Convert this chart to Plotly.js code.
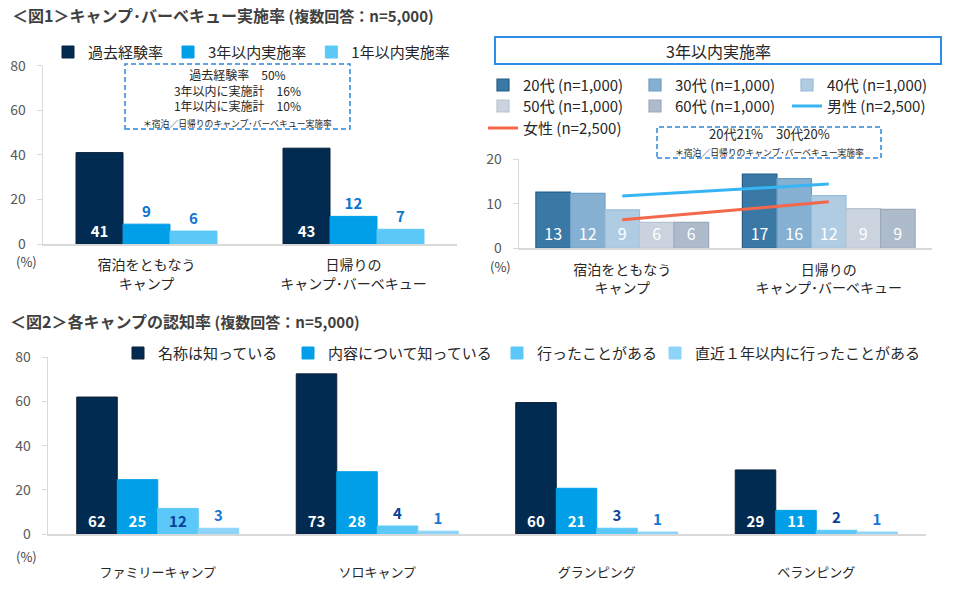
<!DOCTYPE html>
<html><head><meta charset="utf-8">
<script src="https://cdn.plot.ly/plotly-3.0.1.min.js"></script>
<style>body{margin:0;background:#fff}#chart{width:960px;height:589px}</style>
</head><body><div id="chart"></div>
<script>
// ---------- data ----------
const cats1 = ['宿泊をともなう<br>キャンプ', '日帰りの<br>キャンプ･バーベキュー'];
const names1 = ['過去経験率', '3年以内実施率', '1年以内実施率'];
const pastExp = [41, 43];
const within3y = [8.9, 12.4];
const within1y = [5.8, 6.6];

const names2 = ['20代 (n=1,000)', '30代 (n=1,000)', '40代 (n=1,000)', '50代 (n=1,000)', '60代 (n=1,000)', '男性 (n=2,500)', '女性 (n=2,500)'];
const age20 = [12.6, 16.6];
const age30 = [12.3, 15.6];
const age40 = [8.6, 11.8];
const age50 = [5.8, 8.9];
const age60 = [5.8, 8.7];
const male = [11.7, 14.4];
const female = [6.4, 10.4];

const cats3 = ['ファミリーキャンプ', 'ソロキャンプ', 'グランピング', 'ベランピング'];
const names3 = ['名称は知っている', '内容について知っている', '行ったことがある', '直近１年以内に行ったことがある'];
const knowName = [62, 72.5, 59.5, 29];
const knowContent = [24.6, 28.2, 20.7, 10.7];
const visited = [11.6, 3.6, 2.6, 1.7];
const visited1y = [2.6, 1.3, 0.9, 0.9];

// ---------- helpers ----------
const W = 960, H = 589;
const px = v => v / W;
const py = v => 1 - v / H;
const FONT = '"Noto Sans CJK JP", "Noto Sans", sans-serif';
const lbl = '%{y:.0f}';

const traces = [];
// chart 1
const w1 = 0.227;
const c1 = ['#022B52', '#009FE8', '#5BC8F8'];
[pastExp, within3y, within1y].forEach((vals, i) => {
  traces.push({
    type: 'bar', x: cats1, y: vals, name: names1[i], xaxis: 'x', yaxis: 'y', legend: 'legend',
    width: w1, offset: (-1.5 + i) * w1,
    marker: {color: c1[i], line: {color: i === 0 ? '#0B1E36' : c1[i], width: 1}},
    texttemplate: lbl, textposition: i === 0 ? 'inside' : 'outside', insidetextanchor: 'start',
    textangle: 0, constraintext: 'none', cliponaxis: false,
    textfont: {family: FONT, size: 15, color: i === 0 ? '#FFFFFF' : '#0B75CF', weight: 'bold'},
    hoverinfo: 'skip'
  });
});
// chart 2
const w2 = 0.1673;
const fill2 = ['#3A79A5', '#85B0D1', '#AFCCE3', '#CAD3DE', '#AEBBCA'];
const edge2 = ['#245D8A', '#6C9FC5', '#98BCDA', '#B8C4D2', '#9AA9BB'];
const leg2 = ['legend2', 'legend2', 'legend2', 'legend3', 'legend3'];
[age20, age30, age40, age50, age60].forEach((vals, i) => {
  traces.push({
    type: 'bar', x: cats1, y: vals, name: names2[i], xaxis: 'x2', yaxis: 'y2', legend: leg2[i],
    width: w2, offset: (-2.5 + i) * w2,
    marker: {color: fill2[i], line: {color: edge2[i], width: 1.2}},
    texttemplate: lbl, textposition: 'inside', insidetextanchor: 'start',
    textangle: 0, constraintext: 'none', cliponaxis: false,
    textfont: {family: FONT, size: 16, color: '#FFFFFF'},
    hoverinfo: 'skip'
  });
});
traces.push({type: 'scatter', mode: 'lines', x: cats1, y: male, name: names2[5], xaxis: 'x2', yaxis: 'y2',
  legend: 'legend3', line: {color: '#36B4F4', width: 3}, hoverinfo: 'skip'});
traces.push({type: 'scatter', mode: 'lines', x: cats1, y: female, name: names2[6], xaxis: 'x2', yaxis: 'y2',
  legend: 'legend4', line: {color: '#F4674A', width: 3}, hoverinfo: 'skip'});
// chart 3
const w3 = 0.1845;
const c3 = ['#022B52', '#009FE8', '#5BC8F8', '#8DD5F8'];
const pos3 = [
  ['inside', 'inside', 'inside', 'inside'],
  ['inside', 'inside', 'inside', 'inside'],
  ['inside', 'outside', 'outside', 'outside'],
  ['outside', 'outside', 'outside', 'outside']
];
const tcol3 = ['#FFFFFF', '#FFFFFF', '#0C3F98', '#1578D6'];
const lw3 = [125, 164, 113, undefined];
[knowName, knowContent, visited, visited1y].forEach((vals, i) => {
  const t = {
    type: 'bar', x: cats3, y: vals, name: names3[i], xaxis: 'x3', yaxis: 'y3', legend: 'legend5',
    width: w3, offset: (-2 + i) * w3,
    marker: {color: c3[i], line: {color: i === 0 ? '#0B1E36' : c3[i], width: 1}},
    texttemplate: lbl, textposition: pos3[i], insidetextanchor: 'start',
    textangle: 0, constraintext: 'none', cliponaxis: false,
    textfont: {family: FONT, size: 15, color: tcol3[i], weight: 'bold'},
    hoverinfo: 'skip'
  };
  if (lw3[i]) t.legendwidth = lw3[i];
  traces.push(t);
});

// ---------- layout ----------
const yax = (dom, rng, dt) => ({
  domain: [py(dom[1]), py(dom[0])], range: rng, dtick: dt, tick0: 0,
  showline: true, linecolor: '#D9D9D9', linewidth: 1.5, ticks: 'outside', ticklen: 5, tickcolor: '#D9D9D9',
  showgrid: false, zeroline: false, ticklabelstandoff: 8,
  tickfont: {family: FONT, size: 14, color: '#595959'}, fixedrange: true
});
const xax = (dom, rng, anchor, standoff, fs) => ({
  domain: [px(dom[0]), px(dom[1])], range: rng, type: 'category', anchor: anchor,
  showline: true, linecolor: '#D9D9D9', linewidth: 1.5, ticks: '', showgrid: false,
  ticklabelstandoff: standoff, tickfont: {family: FONT, size: fs, color: '#262626'}, fixedrange: true
});
const legBase = (x, top, extra) => Object.assign({
  orientation: 'h', x: px(x), xanchor: 'left', y: py(top), yanchor: 'top',
  font: {family: FONT, size: 15, color: '#262626'}, bgcolor: 'rgba(0,0,0,0)', traceorder: 'normal'
}, extra || {});

const ann = (text, x, y, size, opts) => Object.assign({
  text: text, x: px(x), y: py(y), xref: 'paper', yref: 'paper', showarrow: false,
  xanchor: 'center', yanchor: 'middle', font: {family: FONT, size: size, color: '#262626'}
}, opts || {});

const note = '<span style="font-size:8.8px">＊宿泊／日帰りのキャンプ･バーベキュー実施率</span>';

const layout = {
  width: W, height: H, margin: {l: 0, r: 0, t: 0, b: 0},
  paper_bgcolor: '#FFFFFF', plot_bgcolor: 'rgba(0,0,0,0)',
  font: {family: FONT, color: '#262626'},
  barmode: 'overlay', showlegend: true, hovermode: false,
  title: {
    text: '<b>＜図1＞キャンプ･バーベキュー実施率 <span style="font-size:15px">(複数回答：n=5,000)</span></b>',
    x: px(12), xanchor: 'left', y: py(16), yanchor: 'middle',
    font: {family: FONT, size: 16, color: '#404040'}
  },
  xaxis: xax([43, 457], [-0.5, 1.5], 'y', 8, 14),
  yaxis: yax([65.7, 244], [0, 80], 20),
  xaxis2: xax([519, 932], [-0.5, 1.5], 'y2', 8, 14),
  yaxis2: Object.assign(yax([159, 248.3], [0, 20], 10), {anchor: 'x2'}),
  xaxis3: xax([48, 926], [-0.5, 3.5], 'y3', 26, 13),
  yaxis3: Object.assign(yax([357.3, 534], [0, 80], 20), {anchor: 'x3'}),
  legend: legBase(48, 52 - 16.25),
  legend2: legBase(483, 85 - 16.25, {entrywidth: 107, entrywidthmode: 'pixels'}),
  legend3: legBase(483, 106 - 16.25, {entrywidth: 107, entrywidthmode: 'pixels'}),
  legend4: legBase(483, 128 - 16.25, {entrywidth: 107, entrywidthmode: 'pixels'}),
  legend5: legBase(118, 353 - 16.25),
  shapes: [
    {type: 'rect', xref: 'paper', yref: 'paper', x0: px(125), x1: px(350), y0: py(129), y1: py(64),
      line: {color: '#2E86DE', width: 1.5, dash: '5px,3px'}, fillcolor: 'rgba(0,0,0,0)'},
    {type: 'rect', xref: 'paper', yref: 'paper', x0: px(657), x1: px(881), y0: py(158), y1: py(127),
      line: {color: '#2E86DE', width: 1.5, dash: '5px,3px'}, fillcolor: 'rgba(0,0,0,0)'},
    {type: 'rect', xref: 'paper', yref: 'paper', x0: px(495), x1: px(941), y0: py(64), y1: py(37),
      line: {color: '#2E8DE6', width: 2}, fillcolor: '#FFFFFF'}
  ],
  annotations: [
    ann('過去経験率　50%<br>3年以内に実施計　16%<br>1年以内に実施計　10%<br>' + note, 237.5, 98, 12),
    ann('3年以内実施率', 718, 51, 16),
    ann('20代21%　30代20%<br>' + note, 769, 141.5, 13),
    ann('(%)', 26, 261, 13, {font: {family: FONT, size: 13, color: '#404040'}}),
    ann('(%)', 500, 266, 13, {font: {family: FONT, size: 13, color: '#404040'}}),
    ann('(%)', 26, 556, 13, {font: {family: FONT, size: 13, color: '#404040'}}),
    ann('<b>＜図2＞各キャンプの認知率 <span style="font-size:15px">(複数回答：n=5,000)</span></b>', 8, 321, 16,
      {xanchor: 'left', font: {family: FONT, size: 16, color: '#404040'}})
  ]
};

Plotly.newPlot('chart', traces, layout, {staticPlot: true, displayModeBar: false});
</script>
</body></html>
